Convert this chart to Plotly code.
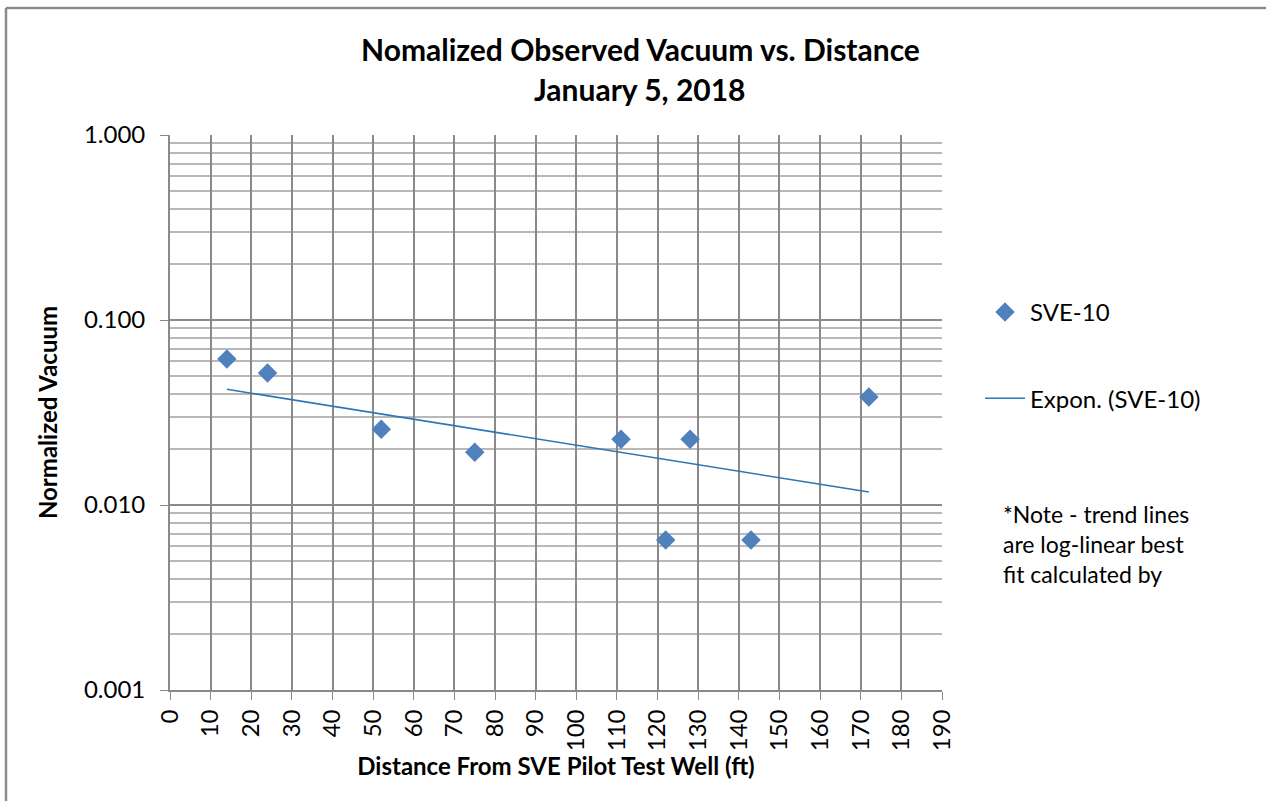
import numpy as np
import plotly.graph_objects as go

# Observed normalized vacuum at each monitoring point
distance_ft = [14, 24, 52, 75, 111, 122, 128, 143, 172]
norm_vacuum = [0.0615, 0.0517, 0.0257, 0.0193, 0.0227, 0.00647, 0.0227, 0.00647, 0.0383]

x_ticks = list(range(0, 200, 10))
y_tickvals = [0.001, 0.01, 0.1, 1.0]
y_ticktext = ["0.001", "0.010", "0.100", "1.000"]

# Exponential (log-linear) trend line, fitted on log10 of the vacuum
slope, intercept = np.polyfit(distance_ft, np.log10(norm_vacuum), 1)
trend_x = np.array([min(distance_ft), max(distance_ft)])
trend_y = 10 ** (intercept + slope * trend_x)

W, H = 1266, 801
L, R, T, B = 170, 942, 135, 690

FONT = "Lato, 'Open Sans', Arial, sans-serif"

fig = go.Figure()
fig.add_trace(go.Scatter(
    x=distance_ft, y=norm_vacuum, mode="markers", name="SVE-10",
    marker=dict(symbol="diamond", size=15, color="#4f81bd"),
    legendgroup="a",
))
fig.add_trace(go.Scatter(
    x=trend_x, y=trend_y, mode="lines", name="Expon. (SVE-10)",
    line=dict(color="#2e75b6", width=1.5),
    legendgroup="b",
))

def px_x(p):
    return (p - L) / (R - L)

def px_y(p):
    return (B - p) / (B - T)

fig.update_layout(
    width=W, height=H,
    margin=dict(l=L, r=W - R, t=T, b=H - B),
    paper_bgcolor="white", plot_bgcolor="white",
    font=dict(family=FONT, color="black"),
    showlegend=True,
    legend=dict(
        x=px_x(980), y=px_y(290), xanchor="left", yanchor="top",
        font=dict(size=24, family=FONT), tracegroupgap=52,
        bgcolor="rgba(0,0,0,0)", itemwidth=40,
    ),
    xaxis=dict(
        range=[0, 190], tickvals=x_ticks, ticktext=[str(v) for v in x_ticks],
        tickangle=-90, tickfont=dict(size=24, family=FONT),
        showgrid=True, gridcolor="#8a8a8a", gridwidth=1.8,
        showline=True, linecolor="#8a8a8a", linewidth=1.8, mirror=False,
        ticks="outside", ticklen=8, tickcolor="#8a8a8a",
        zeroline=False,
        title=dict(text="<b>Distance From SVE Pilot Test Well (ft)</b>",
                   font=dict(size=24, family=FONT), standoff=8),
    ),
    yaxis=dict(
        type="log", range=[-3, 0],
        tickvals=y_tickvals, ticktext=y_ticktext,
        tickfont=dict(size=24, family=FONT), ticklabelstandoff=10,
        showgrid=True, gridcolor="#8a8a8a", gridwidth=1.8,
        showline=True, linecolor="#8a8a8a", linewidth=1.8,
        ticks="outside", ticklen=8, tickcolor="#8a8a8a",
        minor=dict(showgrid=True, gridcolor="#b8b8b8", gridwidth=1.5,
                   dtick="D1", ticks=""),
        zeroline=False,
        title=dict(text="<b>Normalized Vacuum</b>",
                   font=dict(size=24, family=FONT), standoff=20),
    ),
    annotations=[
        dict(text="<b>Nomalized Observed Vacuum vs. Distance</b>",
             xref="paper", yref="paper", x=px_x(640), y=px_y(49),
             xanchor="center", yanchor="middle", showarrow=False,
             font=dict(size=30, family=FONT)),
        dict(text="<b>January 5, 2018</b>",
             xref="paper", yref="paper", x=px_x(640), y=px_y(89),
             xanchor="center", yanchor="middle", showarrow=False,
             font=dict(size=30, family=FONT)),
        dict(text="*Note - trend lines<br>are log-linear best<br>fit calculated by",
             xref="paper", yref="paper", x=px_x(1001), y=px_y(498),
             xanchor="left", yanchor="top", align="left", showarrow=False,
             font=dict(size=23, family=FONT)),
    ],
    shapes=[
        # outer chart border (left and top edges)
        dict(type="line", xref="paper", yref="paper",
             x0=px_x(6), x1=px_x(6), y0=px_y(8), y1=px_y(H + 5),
             line=dict(color="#8c8c8c", width=2.5)),
        dict(type="line", xref="paper", yref="paper",
             x0=px_x(6), x1=px_x(W + 5), y0=px_y(8), y1=px_y(8),
             line=dict(color="#8c8c8c", width=2.5)),
    ],
)

fig.write_html("out.html")
